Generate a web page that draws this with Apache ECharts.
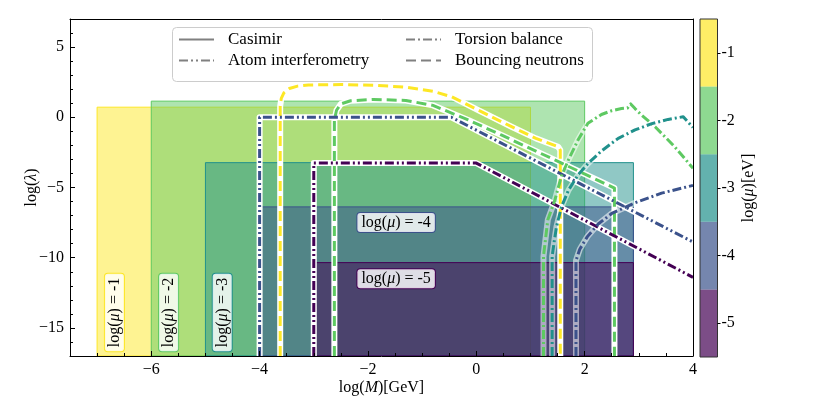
<!DOCTYPE html>
<html><head><meta charset="utf-8">
<script src="https://cdn.jsdelivr.net/npm/echarts@6/dist/echarts.min.js"></script>
<style>html,body{margin:0;padding:0;background:#fff}#c{width:830px;height:415px}</style>
</head><body><div id="c"></div>
<script>
// ---------- data ----------
const xTicksMajor = [-6, -4, -2, 0, 2, 4];
const xTicksMinor = [-7, -6.5, -5.5, -5, -4.5, -3.5, -3, -2.5, -1.5, -1, -0.5, 0.5, 1, 1.5, 2.5, 3, 3.5];
const yTicksMajor = [-15, -10, -5, 0, 5];
const yTicksMinor = [-16, -14, -13, -12, -11, -9, -8, -7, -6, -4, -3, -2, -1, 1, 2, 3, 4, 6];
const cbTicks = [-5, -4, -3, -2, -1];

const muLevels = [-1, -2, -3, -4, -5];
const regionXMin = [-7, -6, -5, -4, -3];
const regionXMax = [1, 2, 2.9, 2.9, 2.9];
const regionTop = [0.72, 1.15, -3.23, -6.38, -10.35];
const regionBottom = -17;

// Bouncing neutrons (dashed)
const bouncingMu1 = [[-3.62,-17],[-3.62,0.8],[-3.6,1.35],[-3.55,1.75],[-3.45,2.05],[-3.3,2.22],[-3.1,2.3],[-2.5,2.33],[-1.9,2.28],[-1.3,2.15],[-0.8,1.85],[-0.45,1.45],[0.03,0.52],[0.65,-0.67],[1.1,-1.5],[1.51,-2.1],[1.55,-2.33],[1.55,-17]];
const bouncingMu2 = [[-2.62,-17],[-2.62,-0.2],[-2.58,0.5],[-2.5,0.95],[-2.32,1.18],[-1.9,1.27],[-1.3,1.2],[-0.8,0.85],[-0.15,-0.19],[0.46,-1.26],[1.45,-3.04],[2.55,-5.04],[2.55,-17]];
// Atom interferometry (dash-dot-dot)
const atomMu4 = [[-4,-17],[-4,0],[-0.46,0],[4,-8.88]];
const atomMu5 = [[-3,-17],[-3,-3.26],[0,-3.26],[4,-11.4]];
// Torsion balance (dash-dot)
const torsionMu2 = [[1.24,-17],[1.24,-9.9],[1.28,-8.6],[1.32,-7.3],[1.45,-5.9],[1.57,-4.2],[1.7,-3.04],[1.88,-1.6],[2.06,-0.43],[2.31,0.2],[2.5,0.47],[2.68,0.62],[2.79,0.66],[2.85,0.95],[2.93,0.62],[3.05,0.16],[3.3,-0.67],[3.66,-2.09],[4.0,-3.63]];
const torsionMu3 = [[1.4,-17],[1.4,-9.9],[1.44,-8.8],[1.48,-7.8],[1.57,-6.4],[1.7,-5.2],[1.88,-4.1],[2.06,-3.3],[2.31,-2.4],[2.62,-1.5],[2.93,-0.9],[3.24,-0.45],[3.54,-0.15],[3.82,0.04],[4.0,-0.72]];
const torsionMu4 = [[1.84,-17],[1.84,-10.2],[1.91,-9.4],[2.05,-8.5],[2.25,-7.6],[2.5,-6.85],[2.92,-6.1],[3.42,-5.4],[4.0,-4.85]];

// annotation labels
const annMu = [-1, -2, -3, -4, -5];
const annX = [-6.68, -5.68, -4.69, -1.48, -1.48];
const annY = [-13.9, -13.9, -13.9, -7.5, -11.5];
const annVertical = [true, true, true, false, false];

const legendNames = ['Casimir', 'Torsion balance', 'Atom interferometry', 'Bouncing neutrons'];

// ---------- styles ----------
const FONT = "'Liberation Serif', 'DejaVu Serif', serif";
const viridis = { '-1': '#fde725', '-2': '#5ec962', '-3': '#21918c', '-4': '#3b528b', '-5': '#440154' };
function rgba(hex, a) {
  const n = parseInt(hex.slice(1), 16);
  return 'rgba(' + ((n >> 16) & 255) + ',' + ((n >> 8) & 255) + ',' + (n & 255) + ',' + a + ')';
}
const dashes = {
  'Casimir': 'solid',
  'Torsion balance': [9, 3, 2, 3],
  'Atom interferometry': [9, 3, 2, 3, 2, 3],
  'Bouncing neutrons': [10, 5]
};
const haloOpacity = { 'Torsion balance': 0.55, 'Atom interferometry': 1, 'Bouncing neutrons': 1 };
const minus = v => String(v).replace('-', '\u2212');
const rich = {
  n: { fontFamily: FONT, fontSize: 16, color: '#000' },
  i: { fontFamily: FONT, fontSize: 16, color: '#000', fontStyle: 'italic' }
};

const curves = [
  { data: bouncingMu1, mu: -1, kind: 'Bouncing neutrons' },
  { data: bouncingMu2, mu: -2, kind: 'Bouncing neutrons' },
  { data: atomMu4, mu: -4, kind: 'Atom interferometry' },
  { data: atomMu5, mu: -5, kind: 'Atom interferometry' },
  { data: torsionMu2, mu: -2, kind: 'Torsion balance' },
  { data: torsionMu3, mu: -3, kind: 'Torsion balance' },
  { data: torsionMu4, mu: -4, kind: 'Torsion balance' }
];

const series = [];
// shaded regions
series.push({
  type: 'custom', xAxisIndex: 0, yAxisIndex: 0, clip: true, z: 2, silent: true,
  data: muLevels.map((m, i) => [regionXMin[i], regionTop[i], regionXMax[i], regionBottom, m]),
  renderItem: (params, api) => {
    const p1 = api.coord([api.value(0), api.value(1)]);
    const p2 = api.coord([api.value(2), api.value(3)]);
    const c = viridis[String(api.value(4))];
    return { type: 'rect', shape: { x: p1[0], y: p1[1], width: p2[0] - p1[0], height: p2[1] - p1[1] },
      style: { fill: rgba(c, 0.5), stroke: c, lineWidth: 1 } };
  }
});
// curves
curves.forEach((cv, k) => {
  series.push({ type: 'line', xAxisIndex: 0, yAxisIndex: 0, data: cv.data, symbol: 'none', silent: true,
    z: 3, lineStyle: { color: '#fff', width: 6, opacity: haloOpacity[cv.kind], cap: 'butt', join: 'round' } });
  series.push({ type: 'line', xAxisIndex: 0, yAxisIndex: 0, data: cv.data, symbol: 'none', silent: true,
    z: 4, lineStyle: { color: viridis[String(cv.mu)], width: 3, type: dashes[cv.kind], cap: 'butt', join: 'round' } });
});
// legend-only series
legendNames.forEach(nm => {
  series.push({ type: 'line', name: nm, xAxisIndex: 0, yAxisIndex: 0, data: [], symbol: 'none', showSymbol: false,
    itemStyle: { color: '#808080' }, lineStyle: { color: '#808080', width: 2, type: dashes[nm] } });
});
// annotations
series.push({
  type: 'custom', xAxisIndex: 0, yAxisIndex: 0, z: 6, silent: true,
  data: annMu.map((m, i) => [annX[i], annY[i], m, annVertical[i] ? 1 : 0]),
  renderItem: (params, api) => {
    const p = api.coord([api.value(0), api.value(1)]);
    const m = api.value(2);
    return { type: 'text', x: p[0], y: p[1], rotation: api.value(3) ? Math.PI / 2 : 0,
      style: { text: '{n|log(}{i|\u03bc}{n|) = ' + m + '}', rich: rich, align: 'center', verticalAlign: 'middle',
        backgroundColor: 'rgba(255,255,255,0.82)', borderColor: viridis[String(m)], borderWidth: 1,
        borderRadius: 3, padding: [2, 4, 1, 4] } };
  }
});
// colorbar
series.push({
  type: 'custom', xAxisIndex: 3, yAxisIndex: 3, silent: true, z: 2,
  data: cbTicks.map(v => [0, v]),
  renderItem: (params, api) => {
    const v = api.value(1);
    const p1 = api.coord([0, v + 0.5]);
    const p2 = api.coord([1, v - 0.5]);
    return { type: 'rect', shape: { x: p1[0], y: p1[1], width: p2[0] - p1[0], height: p2[1] - p1[1] },
      style: { fill: rgba(viridis[String(v)], 0.7) } };
  }
});

const tickLabel = { fontFamily: FONT, fontSize: 16, color: '#000' };
const noLine = { show: false, onZero: false };
const option = {
  animation: false,
  backgroundColor: '#fff',
  grid: [
    { left: 70, right: 137, top: 19, bottom: 59, show: false },
    { left: 700, width: 17.5, top: 19, bottom: 58, show: true, borderColor: '#333', borderWidth: 1, backgroundColor: 'transparent', z: 5 }
  ],
  xAxis: [
    { type: 'value', gridIndex: 0, min: -7.5, max: 4, z: 10, position: 'bottom',
      axisLine: { show: true, onZero: false, lineStyle: { color: '#000', width: 1 } },
      axisTick: { show: true, inside: true, length: 5, customValues: xTicksMajor, lineStyle: { color: '#000' } },
      axisLabel: { show: true, customValues: xTicksMajor, formatter: minus, margin: 6, ...tickLabel },
      splitLine: { show: false },
      name: '{n|log(}{i|M}{n|)[GeV]}', nameLocation: 'middle', nameGap: 24, nameMoveOverlap: false, nameTextStyle: { rich: rich } },
    { type: 'value', gridIndex: 0, min: -7.5, max: 4, z: 10, position: 'bottom',
      axisLine: noLine, axisLabel: { show: false }, splitLine: { show: false },
      axisTick: { show: true, inside: true, length: 3, customValues: xTicksMinor, lineStyle: { color: '#000' } } },
    { type: 'value', gridIndex: 0, min: -7.5, max: 4, z: 10, position: 'top',
      axisLine: { show: true, onZero: false, lineStyle: { color: '#000', width: 1 } },
      axisTick: { show: false }, axisLabel: { show: false }, splitLine: { show: false } },
    { type: 'value', gridIndex: 1, min: 0, max: 1, show: false }
  ],
  yAxis: [
    { type: 'value', gridIndex: 0, min: -17, max: 7, z: 10, position: 'left',
      axisLine: { show: true, onZero: false, lineStyle: { color: '#000', width: 1 } },
      axisTick: { show: true, inside: true, length: 5, customValues: yTicksMajor, lineStyle: { color: '#000' } },
      axisLabel: { show: true, customValues: yTicksMajor, formatter: minus, margin: 6, ...tickLabel },
      splitLine: { show: false },
      name: '{n|log(}{i|\u03bb}{n|)}', nameLocation: 'middle', nameGap: 30, nameMoveOverlap: false, nameTextStyle: { rich: rich } },
    { type: 'value', gridIndex: 0, min: -17, max: 7, z: 10, position: 'left',
      axisLine: noLine, axisLabel: { show: false }, splitLine: { show: false },
      axisTick: { show: true, inside: true, length: 3, customValues: yTicksMinor, lineStyle: { color: '#000' } } },
    { type: 'value', gridIndex: 0, min: -17, max: 7, z: 10, position: 'right',
      axisLine: { show: true, onZero: false, lineStyle: { color: '#000', width: 1 } },
      axisTick: { show: false }, axisLabel: { show: false }, splitLine: { show: false } },
    { type: 'value', gridIndex: 1, min: -5.5, max: -0.5, position: 'right', z: 10,
      axisLine: noLine,
      axisTick: { show: true, inside: false, length: 3, customValues: cbTicks, lineStyle: { color: '#000' } },
      axisLabel: { show: true, customValues: cbTicks, margin: 4, ...tickLabel },
      splitLine: { show: false },
      name: '{n|log(}{i|\u03bc}{n|)[eV]}', nameLocation: 'middle', nameGap: 23, nameRotate: 90, nameMoveOverlap: false, nameTextStyle: { rich: rich } }
  ],
  graphic: [
    { type: 'rect', left: 172, top: 27, z: 50, shape: { width: 420, height: 54, r: 4 },
      style: { fill: 'rgba(255,255,255,0.85)', stroke: '#cccccc', lineWidth: 1 } }
  ],
  legend: [
    { data: ['Casimir', 'Atom interferometry'], orient: 'vertical', left: 178, top: 31, z: 60, padding: 0,
      itemGap: 4, itemWidth: 35, itemHeight: 14, itemStyle: { opacity: 0, borderWidth: 0 },
      textStyle: { fontFamily: FONT, fontSize: 17, color: '#000', padding: [0, 0, 0, 9] } },
    { data: ['Torsion balance', 'Bouncing neutrons'], orient: 'vertical', left: 405, top: 31, z: 60, padding: 0,
      itemGap: 4, itemWidth: 35, itemHeight: 14, itemStyle: { opacity: 0, borderWidth: 0 },
      textStyle: { fontFamily: FONT, fontSize: 17, color: '#000', padding: [0, 0, 0, 9] } }
  ],
  series: series
};
const chart = echarts.init(document.getElementById('c'), null, { renderer: 'canvas' });
chart.setOption(option);
</script></body></html>
